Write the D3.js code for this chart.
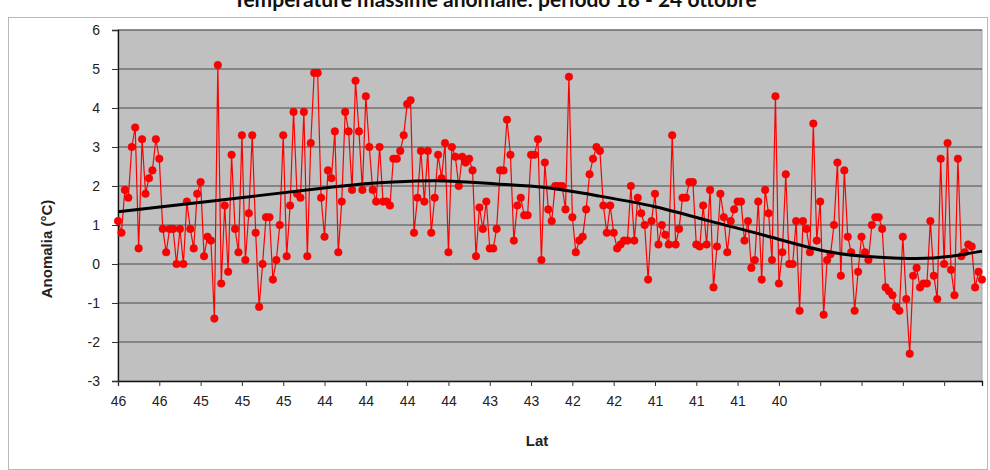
<!DOCTYPE html>
<html>
<head>
<meta charset="utf-8">
<script src="https://cdn.jsdelivr.net/npm/d3@7"></script>
<style>
  body { margin: 0; background: #fff; }
  text { font-family: "Liberation Sans", Arial, sans-serif; fill: #222; }
</style>
</head>
<body>
<div id="chart"></div>
<script>

// anomalia (°C) per stazione, ordinate per latitudine decrescente
var anomalie = [
  1.1, 0.8, 1.9, 1.7, 3.0, 3.5, 0.4, 3.2, 1.8, 2.2, 2.4, 3.2, 2.7, 0.9, 0.3, 0.9, 0.9, 0.0, 0.9, 0.0,
  1.6, 0.9, 0.4, 1.8, 2.1, 0.2, 0.7, 0.6, -1.4, 5.1, -0.5, 1.5, -0.2, 2.8, 0.9, 0.3, 3.3, 0.1, 1.3, 3.3,
  0.8, -1.1, 0.0, 1.2, 1.2, -0.4, 0.1, 1.0, 3.3, 0.2, 1.5, 3.9, 1.8, 1.7, 3.9, 0.2, 3.1, 4.9, 4.9, 1.7,
  0.7, 2.4, 2.2,
  3.4, 0.3, 1.6, 3.9, 3.4, 1.9, 4.7, 3.4, 1.9, 4.3, 3.0, 1.9, 1.6, 3.0, 1.6, 1.6, 1.5, 2.7, 2.7, 2.9,
  3.3, 4.1, 4.2, 0.8, 1.7, 2.9, 1.6, 2.9, 0.8, 1.7, 2.8, 2.2, 3.1, 0.3, 3.0, 2.75, 2.0, 2.75, 2.6, 2.7,
  2.4, 0.2, 1.45, 0.9, 1.6, 0.4, 0.4, 0.9, 2.4, 2.4, 3.7, 2.8, 0.6, 1.5, 1.7, 1.25, 1.25, 2.8, 2.8, 3.2,
  0.1, 2.6, 1.4,
  1.1, 2.0, 2.0, 2.0, 1.4, 4.8, 1.2, 0.3, 0.6, 0.7, 1.4, 2.3, 2.7, 3.0, 2.9, 1.5, 0.8, 1.5, 0.8, 0.4,
  0.5, 0.6, 0.6, 2.0, 0.6, 1.7, 1.3, 1.0, -0.4, 1.1, 1.8, 0.5, 1.0, 0.75, 0.5, 3.3, 0.5, 0.9, 1.7, 1.7,
  2.1, 2.1, 0.5, 0.45, 1.5, 0.5, 1.9, -0.6, 0.45, 1.8, 1.2, 0.3, 1.1, 1.4, 1.6, 1.6, 0.6, 1.1, -0.1, 0.1,
  1.6, -0.4, 1.9,
  1.3, 0.1, 4.3, -0.5, 0.3, 2.3, 0.0, 0.0, 1.1, -1.2, 1.1, 0.9, 0.3, 3.6, 0.6, 1.6, -1.3, 0.1, 0.25, 1.0,
  2.6, -0.3, 2.4, 0.7, 0.3, -1.2, -0.2, 0.7, 0.3, 0.1, 1.0, 1.2, 1.2, 0.9, -0.6, -0.7, -0.8, -1.1, -1.2, 0.7,
  -0.9, -2.3, -0.3, -0.1, -0.6, -0.5, -0.5, 1.1, -0.3, -0.9, 2.7, 0.0, 3.1, -0.15, -0.8, 2.7, 0.2, 0.3, 0.5, 0.45,
  -0.6, -0.2, -0.4
];

// linea di tendenza: posizione della stazione e valore
var trendIdx = [0, 30, 63, 80, 95, 110, 124, 140, 156, 172, 188, 206, 220, 232, 242, 251];
var trendVal = [1.34, 1.64, 1.98, 2.1, 2.13, 2.05, 1.96, 1.74, 1.47, 1.1, 0.73, 0.32, 0.18, 0.14, 0.2, 0.33];

// etichette asse x, una ogni 12 stazioni (le ultime sono vuote)
var latLabels = ['46', '46', '45', '45', '45', '44', '44', '44', '44', '43', '43',
                 '42', '42', '41', '41', '41', '40', '', '', '', ''];
var latStep = 12;

var yTicks = [-3, -2, -1, 0, 1, 2, 3, 4, 5, 6];

var titolo = 'Temperature massime anomalie: periodo 18 - 24 ottobre';


var width = 990, height = 470;
var plotLeft = 118, plotRight = 982, plotTop = 30, plotBottom = 381;

var svg = d3.select('#chart')
            .append('svg')
              .attr('width', width)
              .attr('height', height);

// cornice esterna del grafico
svg.append('rect')
    .attr('x', 8.5)
    .attr('y', 17.5)
    .attr('width', 979)
    .attr('height', 452)
    .style('fill', 'none')
    .style('stroke', '#b8b8b8')
    .style('stroke-width', 1);

// il titolo nell'originale e' tagliato in alto
svg.append('text')
    .attr('x', 495)
    .attr('y', 7)
    .attr('text-anchor', 'middle')
    .style('font-family', 'Lato, "Open Sans", sans-serif')
    .style('font-weight', 700)
    .style('font-size', '21px')
    .style('fill', '#111')
    .text(titolo);

var x = d3.scaleLinear()
          .domain([0, anomalie.length - 1])
          .range([plotLeft, plotRight]);

var y = d3.scaleLinear()
          .domain([d3.min(yTicks), d3.max(yTicks)])
          .range([plotBottom, plotTop]);

// area del grafico
svg.append('rect')
    .attr('x', plotLeft)
    .attr('y', plotTop)
    .attr('width', plotRight - plotLeft)
    .attr('height', plotBottom - plotTop)
    .style('fill', '#c0c0c0')
    .style('stroke', '#a8a8a8')
    .style('stroke-width', 1);

// griglia
svg.append('g')
    .selectAll('line')
    .data(yTicks.filter(function(d) { return d > d3.min(yTicks); }))
    .join('line')
      .attr('x1', plotLeft)
      .attr('x2', plotRight)
      .attr('y1', function(d) { return y(d); })
      .attr('y2', function(d) { return y(d); })
      .style('stroke', '#4a4a4a')
      .style('stroke-width', 1.2);

// assi
var yAxis = d3.axisLeft(y)
              .tickValues(yTicks)
              .tickSize(6)
              .tickPadding(12)
              .tickFormat(function(d) { return String(d); });

var tickIdx = latLabels.map(function(d, i) { return i * latStep; });

var xAxis = d3.axisBottom(x)
              .tickValues(tickIdx)
              .tickSize(5)
              .tickPadding(10)
              .tickFormat(function(d, i) { return latLabels[i]; });

var gy = svg.append('g')
    .attr('transform', 'translate(' + plotLeft + ',0)')
    .call(yAxis);

var gx = svg.append('g')
    .attr('transform', 'translate(0,' + plotBottom + ')')
    .call(xAxis);

[gx, gy].forEach(function(g) {
  g.select('.domain').style('stroke', '#111').style('stroke-width', 1.3);
  g.selectAll('.tick line').style('stroke', '#333');
  g.selectAll('.tick text')
    .style('font-size', '14px')
    .style('font-family', '"Liberation Sans", Arial, sans-serif')
    .style('fill', '#222');
});

// titoli degli assi
svg.append('text')
    .attr('transform', 'translate(52,249) rotate(-90)')
    .attr('text-anchor', 'middle')
    .style('font-weight', 700)
    .style('font-size', '15px')
    .text('Anomalia (°C)');

svg.append('text')
    .attr('x', (plotLeft + plotRight) / 2 - 13)
    .attr('y', 446)
    .attr('text-anchor', 'middle')
    .style('font-weight', 700)
    .style('font-size', '15px')
    .text('Lat');

// serie delle anomalie
var line = d3.line()
             .x(function(d, i) { return x(i); })
             .y(function(d) { return y(d); });

svg.append('path')
    .datum(anomalie)
    .attr('d', line)
    .style('fill', 'none')
    .style('stroke', '#ff0000')
    .style('stroke-width', 1.2);

svg.append('g')
    .selectAll('circle')
    .data(anomalie)
    .join('circle')
      .attr('cx', function(d, i) { return x(i); })
      .attr('cy', function(d) { return y(d); })
      .attr('r', 3.8)
      .style('fill', '#ff0000')
      .style('stroke', '#e00000')
      .style('stroke-width', 0.5);

// tendenza
var trendLine = d3.line()
                  .x(function(d) { return x(d); })
                  .y(function(d, i) { return y(trendVal[i]); })
                  .curve(d3.curveNatural);

svg.append('path')
    .datum(trendIdx)
    .attr('d', trendLine)
    .style('fill', 'none')
    .style('stroke', '#000')
    .style('stroke-width', 3);

</script>
</body>
</html>
